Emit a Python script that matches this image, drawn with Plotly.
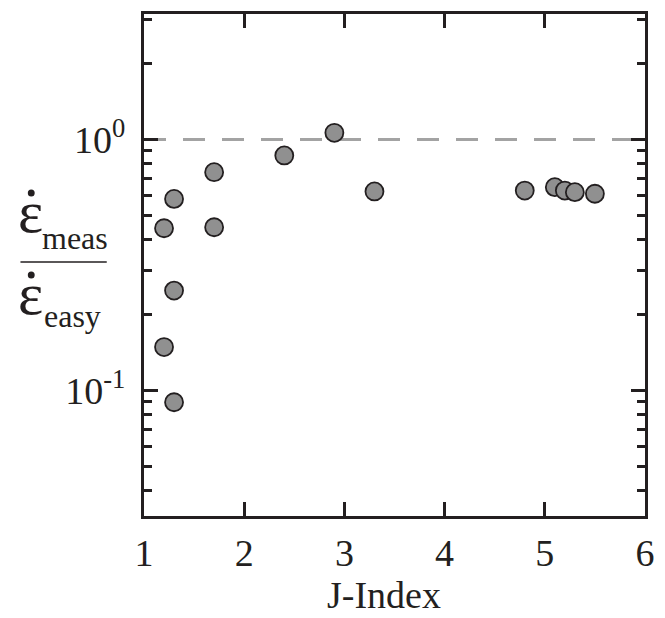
import plotly.graph_objects as go

# ---- data ----
j_index = [1.2, 1.2, 1.3, 1.3, 1.3, 1.7, 1.7, 2.4, 2.9, 3.3, 4.8, 5.1, 5.2, 5.3, 5.5]
rate_ratio = [0.149, 0.443, 0.0898, 0.250, 0.580, 0.447, 0.741, 0.864, 1.063, 0.621,
              0.626, 0.646, 0.626, 0.617, 0.608]
x_ticks = [1, 2, 3, 4, 5, 6]
y_major = [0.1, 1.0]
y_major_text = ["10<sup>-1</sup>", "10<sup>0</sup>"]
y_minor = [0.04, 0.05, 0.06, 0.07, 0.08, 0.09, 0.2, 0.3, 0.4, 0.5, 0.6, 0.7, 0.8, 0.9, 2, 3]
ref_level = 1.0

# ---- layout constants ----
W, H = 665, 618
ML, MR, MT, MB = 144, 10, 14, 102
PW, PH = W - ML - MR, H - MT - MB
FONT = "Liberation Serif"
AX = "#231f20"


def P(px, py):
    return (px - ML) / PW, 1 - (py - MT) / PH


fig = go.Figure()

fig.add_trace(go.Scatter(
    x=[x_ticks[0], x_ticks[-1]], y=[ref_level, ref_level], mode="lines",
    line=dict(color="#a3a3a3", width=3, dash="22px,17px"),
    hoverinfo="skip", showlegend=False))

fig.add_trace(go.Scatter(
    x=j_index, y=rate_ratio, mode="markers",
    marker=dict(size=18, color="#909090", line=dict(color=AX, width=1.8)),
    showlegend=False))

axis_common = dict(
    showline=True, linecolor=AX, linewidth=3, mirror="ticks",
    ticks="inside", tickcolor=AX, tickwidth=3, ticklen=14,
    showgrid=False, zeroline=False,
    tickfont=dict(family=FONT, size=38, color="#231f20"),
)

fig.update_xaxes(
    range=[1, 6], tickvals=x_ticks, ticktext=[str(v) for v in x_ticks],
    ticklabelstandoff=1,
    **axis_common)
fig.update_yaxes(
    type="log", range=[-1.5, 0.5], tickvals=y_major, ticktext=y_major_text,
    ticklabelstandoff=8,
    minor=dict(tickvals=y_minor, ticks="inside", ticklen=8, tickwidth=3, tickcolor=AX),
    **axis_common)

# x-axis title
fig.add_annotation(text="J-Index", x=0.5, y=0, xref="paper", yref="paper",
                   xanchor="center", yanchor="top", yshift=-56, xshift=-11, showarrow=False,
                   font=dict(family=FONT, size=38, color="#231f20"))

# y-axis title: rate ratio (epsilon-dot meas / epsilon-dot easy)
def ann(text, px, py, size, anchor="center"):
    x, y = P(px, py)
    fig.add_annotation(text=text, x=x, y=y, xref="paper", yref="paper",
                       xanchor=anchor, yanchor="middle", showarrow=False,
                       font=dict(family=FONT, size=size, color="#231f20"))

ann("ε", 28, 212, 60)
ann("meas", 38, 238, 32, "left")
ann("ε", 28, 294, 60)
ann("easy", 40, 316, 32, "left")

for (cx, cy) in [(29, 193), (29, 275)]:
    x0, y0 = P(cx - 3.5, cy - 3.5)
    x1, y1 = P(cx + 3.5, cy + 3.5)
    fig.add_shape(type="circle", xref="paper", yref="paper", x0=x0, x1=x1, y0=y0, y1=y1,
                  fillcolor="#231f20", line=dict(width=0))

lx0, ly = P(18, 262)
lx1, _ = P(106, 262)
fig.add_shape(type="line", xref="paper", yref="paper", x0=lx0, x1=lx1, y0=ly, y1=ly,
              line=dict(color="#231f20", width=1.5))

fig.update_layout(
    width=W, height=H, margin=dict(l=ML, r=MR, t=MT, b=MB),
    plot_bgcolor="white", paper_bgcolor="white",
)

fig.write_html("out.html")
